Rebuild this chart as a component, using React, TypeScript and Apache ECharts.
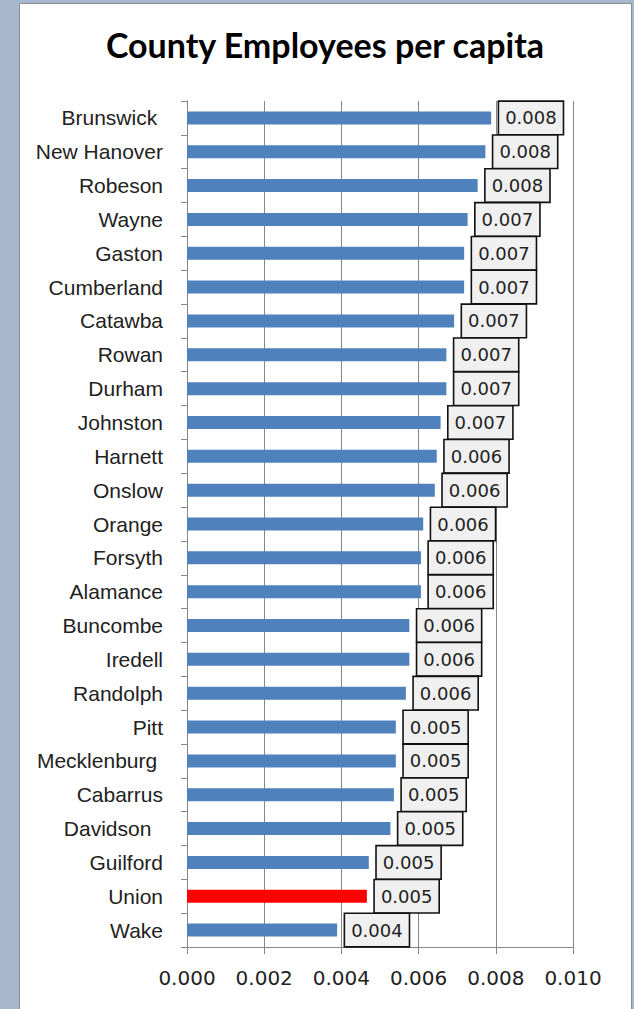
import React, { useEffect, useRef } from "react";
import * as echarts from "echarts";

// Counties, top to bottom, and county employees per resident
const counties = [
  "Brunswick ",
  "New Hanover",
  "Robeson",
  "Wayne",
  "Gaston",
  "Cumberland",
  "Catawba",
  "Rowan",
  "Durham",
  "Johnston",
  "Harnett",
  "Onslow",
  "Orange",
  "Forsyth",
  "Alamance",
  "Buncombe",
  "Iredell",
  "Randolph",
  "Pitt",
  "Mecklenburg ",
  "Cabarrus",
  "Davidson  ",
  "Guilford",
  "Union",
  "Wake",
];

const employeesPerCapita = [
  0.00788, 0.00773, 0.00753, 0.00727, 0.00718, 0.00718, 0.00692, 0.00672,
  0.00672, 0.00657, 0.00647, 0.00642, 0.00612, 0.00606, 0.00606, 0.00576,
  0.00576, 0.00567, 0.00541, 0.00541, 0.00536, 0.00527, 0.00471, 0.00466,
  0.00389,
];

const highlighted = "Union";

const axisMin = 0;
const axisMax = 0.01;
const axisStep = 0.002;

const BLUE = "#4F81BD";
const RED = "#FF0000";
const GRID = "#878787";

export default function App() {
  const ref = useRef<HTMLDivElement>(null);

  useEffect(() => {
    document.body.style.margin = "0";
    if (!ref.current) return;
    const chart = echarts.init(ref.current, null, { renderer: "svg" });

    chart.setOption({
      animation: false,
      backgroundColor: "#A6B7CE",
      graphic: [
        {
          type: "rect",
          z: -10,
          silent: true,
          shape: { x: 19.5, y: 3.5, width: 612, height: 1010 },
          style: { fill: "#FFFFFF", stroke: "#8E8E8E", lineWidth: 1 },
        },
      ],
      title: {
        text: "County Employees per capita",
        left: 320,
        textAlign: "center",
        top: 22,
        textStyle: {
          fontFamily: "Lato",
          fontWeight: "bold",
          fontSize: 34,
          color: "#000000",
        },
      },
      grid: { left: 187, top: 101, width: 386, height: 846, containLabel: false },
      xAxis: {
        type: "value",
        min: axisMin,
        max: axisMax,
        interval: axisStep,
        axisLine: { show: true, lineStyle: { color: GRID, width: 1 } },
        axisTick: { show: true, length: 7, lineStyle: { color: GRID } },
        splitLine: { show: true, lineStyle: { color: GRID, width: 1 } },
        axisLabel: {
          margin: 21,
          fontFamily: "DejaVu Sans",
          fontSize: 20,
          color: "#222222",
          formatter: (v: number) => v.toFixed(3),
        },
      },
      yAxis: {
        type: "category",
        inverse: true,
        data: counties,
        axisLine: { show: true, lineStyle: { color: GRID, width: 1 } },
        axisTick: { show: true, length: 6, lineStyle: { color: GRID } },
        axisLabel: {
          margin: 24,
          fontFamily: "Liberation Sans",
          fontSize: 21,
          color: "#222222",
        },
      },
      series: [
        {
          type: "bar",
          barWidth: 13,
          data: employeesPerCapita.map((v, i) => ({
            value: v,
            itemStyle: {
              color: counties[i].trim() === highlighted ? RED : BLUE,
            },
          })),
          label: {
            show: true,
            position: "right",
            distance: 8,
            formatter: (p: any) => Number(p.value).toFixed(3),
            fontFamily: "DejaVu Sans",
            fontSize: 18,
            lineHeight: 20,
            color: "#222222",
            backgroundColor: "#F0F0F0",
            borderColor: "#111111",
            borderWidth: 1.6,
            padding: [6, 6, 6, 6],
          },
        },
      ],
    });

    return () => chart.dispose();
  }, []);

  return <div ref={ref} style={{ width: 634, height: 1009 }} />;
}
